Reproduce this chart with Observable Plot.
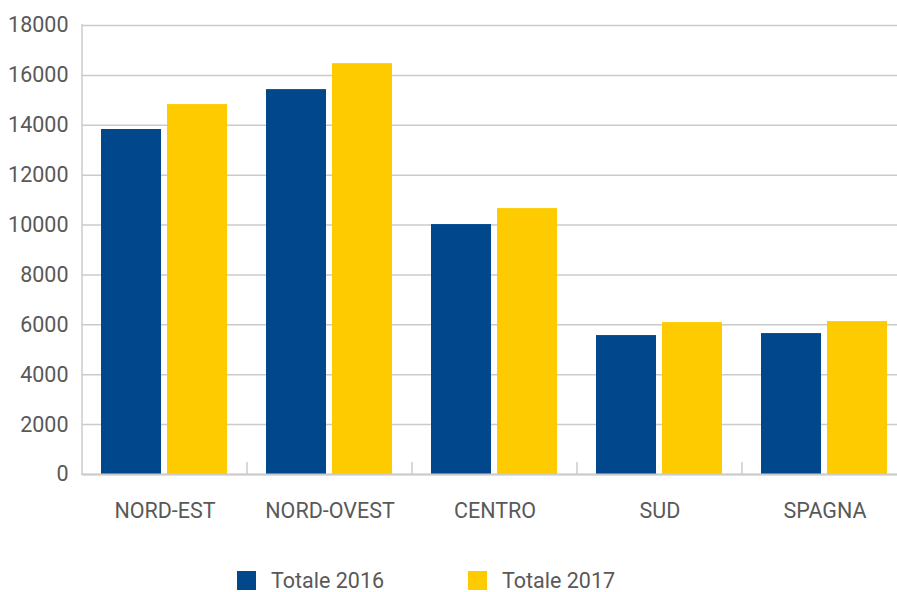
<!DOCTYPE html>
<html>
<head>
<meta charset="utf-8">
<script src="https://cdn.jsdelivr.net/npm/d3@7"></script>
<script src="https://cdn.jsdelivr.net/npm/@observablehq/plot@0.6"></script>
<style>
  html, body { margin: 0; padding: 0; background: #fff; overflow: hidden; }
  #chart { width: 897px; overflow: hidden; }
  .legend { position: relative; height: 42px; font-family: Roboto, sans-serif; font-size: 21.5px; color: #595959; }
  .legend .item { position: absolute; top: 21px; height: 19px; display: flex; align-items: center; }
  .legend .item .lbl { display: block; height: 19px; line-height: 19px; white-space: nowrap; }
  .legend .sw { width: 19px; height: 19px; margin-right: 15px; }
</style>
</head>
<body>
<div id="chart"></div>
<script>
const regions = ["NORD-EST", "NORD-OVEST", "CENTRO", "SUD", "SPAGNA"];
const seriesNames = ["Totale 2016", "Totale 2017"];
const values2016 = [13830, 15430, 10020, 5570, 5650];
const values2017 = [14830, 16470, 10660, 6090, 6130];
const yTicks = [0, 2000, 4000, 6000, 8000, 10000, 12000, 14000, 16000, 18000];
const seriesColors = ["#01478b", "#fecb00"];

const data = regions.flatMap((r, i) => [
  {region: r, series: seriesNames[0], value: values2016[i]},
  {region: r, series: seriesNames[1], value: values2017[i]}
]);

const gridColor = "#cbcbcb";

const plot = Plot.plot({
  width: 907,
  height: 550,
  marginLeft: 82,
  marginRight: 0,
  marginTop: 25,
  marginBottom: 76,
  style: {fontFamily: "Roboto, sans-serif", fontSize: "21.5px", color: "#595959", maxWidth: "none", background: "white"},
  fx: {domain: regions, padding: 0, label: null, tickSize: 0, tickPadding: 28},
  x: {domain: seriesNames, paddingInner: 0.0909, paddingOuter: 0.295, axis: null},
  y: {domain: [0, 18000], ticks: yTicks, label: null, tickSize: 0, tickPadding: 14, tickFormat: d3.format("d")},
  color: {domain: seriesNames, range: seriesColors},
  marks: [
    Plot.gridY(yTicks, {stroke: gridColor, strokeOpacity: 1, strokeWidth: 1.5}),
    Plot.barY(data, {fx: "region", x: "series", y: "value", fill: "series"}),
    Plot.ruleY([0], {stroke: gridColor, strokeWidth: 2})
  ]
});

// axis line and category boundary ticks placed via the plot's own scales
const fx = plot.scale("fx");
const y = plot.scale("y");
const svg = d3.select(plot);
const y0 = y.apply(0);
const yTop = y.apply(18000);
const bounds = regions.map(r => fx.apply(r));
bounds.push(fx.apply(regions[regions.length - 1]) + fx.step);
const g = svg.append("g").attr("stroke", gridColor).attr("stroke-width", 1.5);
g.append("line").attr("x1", bounds[0]).attr("x2", bounds[0]).attr("y1", yTop - 1).attr("y2", y0 + 1);
bounds.slice(1).forEach(b => {
  g.append("line").attr("x1", b).attr("x2", b).attr("y1", y0 - 12).attr("y2", y0);
});

document.getElementById("chart").append(plot);

// legend below the SVG
const legend = d3.select("#chart").append("div").attr("class", "legend");
const legendX = [237, 468];
seriesNames.forEach((s, i) => {
  const it = legend.append("div").attr("class", "item").style("left", legendX[i] + "px");
  it.append("div").attr("class", "sw").style("background", seriesColors[i]);
  it.append("div").attr("class", "lbl").text(s);
});
</script>
</body>
</html>
